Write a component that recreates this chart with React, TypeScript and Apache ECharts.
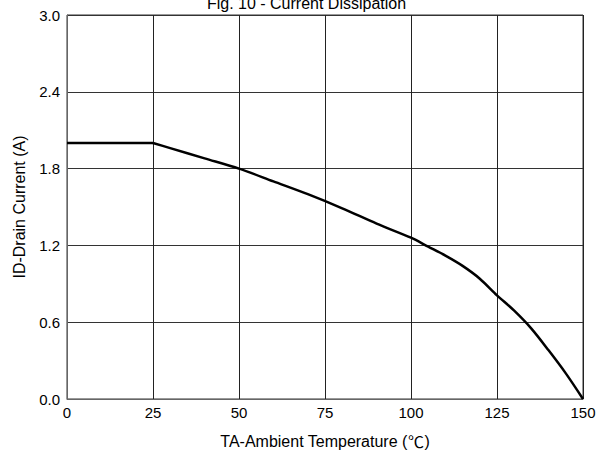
import React, { useEffect, useRef } from "react";
import * as echarts from "echarts";

// Derating curve: drain current vs ambient temperature
const flatTemps = [0, 25];
const flatCurrent = [2.0, 2.0];
const deratingTemps = [25, 30, 40, 50, 60, 70, 80, 90, 100, 105, 110, 115, 120, 125, 130, 135, 140, 145, 150];
const deratingCurrent = [2.0, 1.96, 1.88, 1.8, 1.7, 1.6, 1.49, 1.37, 1.26, 1.19, 1.12, 1.04, 0.94, 0.81, 0.69, 0.55, 0.38, 0.2, 0.0];

const xTicks = [0, 25, 50, 75, 100, 125, 150];
const yTicks = [0, 0.6, 1.2, 1.8, 2.4, 3.0];

const titleText = "Fig. 10 - Current Dissipation";
const xName = "{t|TA-Ambient Temperature (}{u|℃}{t|)}";
const yName = "ID-Drain Current (A)";

export default function App() {
  const ref = useRef<HTMLDivElement>(null);

  useEffect(() => {
    if (!ref.current) return;
    const chart = echarts.init(ref.current, undefined, { renderer: "svg" });
    const font = "'Liberation Sans', Arial, sans-serif";
    const cjk = "'Noto Sans CJK SC', 'Noto Sans CJK JP', sans-serif";
    const xStep = xTicks[1] - xTicks[0];
    const yStep = yTicks[1] - yTicks[0];
    const curveStyle = { color: "#000", width: 2.5 };
    chart.setOption({
      animation: false,
      backgroundColor: "#ffffff",
      title: {
        text: titleText,
        left: "center",
        top: -10,
        textStyle: { fontFamily: font, fontSize: 16, fontWeight: "normal", color: "#000" },
      },
      grid: { left: 67, right: 30, top: 15, bottom: 56, show: true, borderColor: "#333", borderWidth: 1 },
      xAxis: {
        type: "value",
        min: xTicks[0],
        max: xTicks[xTicks.length - 1],
        interval: xStep,
        name: xName,
        nameLocation: "middle",
        nameGap: 34,
        nameTextStyle: {
          fontFamily: font,
          fontSize: 16,
          color: "#000",
          rich: {
            t: { fontFamily: font, fontSize: 16, color: "#000" },
            u: { fontFamily: cjk, fontSize: 16, color: "#000", width: 17, align: "center" },
          },
        },
        axisLine: { show: true, lineStyle: { color: "#666", width: 1 } },
        axisTick: { show: false },
        axisLabel: { fontFamily: font, fontSize: 15, color: "#000", margin: 6 },
        splitLine: { show: true, lineStyle: { color: "#222", width: 1 } },
      },
      yAxis: {
        type: "value",
        min: yTicks[0],
        max: yTicks[yTicks.length - 1],
        interval: yStep,
        name: yName,
        nameLocation: "middle",
        nameRotate: 90,
        nameGap: 40,
        nameTextStyle: { fontFamily: font, fontSize: 16, color: "#000" },
        axisLine: { show: true, lineStyle: { color: "#666", width: 1 } },
        axisTick: { show: false },
        axisLabel: {
          fontFamily: font,
          fontSize: 15,
          color: "#000",
          margin: 7,
          formatter: (v: number) => v.toFixed(1),
        },
        splitLine: { show: true, lineStyle: { color: "#333", width: 1 } },
      },
      series: [
        {
          type: "line",
          data: flatTemps.map((t, i) => [t, flatCurrent[i]]),
          showSymbol: false,
          lineStyle: curveStyle,
          clip: false,
        },
        {
          type: "line",
          data: deratingTemps.map((t, i) => [t, deratingCurrent[i]]),
          showSymbol: false,
          smooth: 0.3,
          lineStyle: curveStyle,
          clip: false,
        },
      ],
    });
    return () => chart.dispose();
  }, []);

  return <div ref={ref} style={{ width: 613, height: 455, position: "absolute", left: 0, top: 0 }} />;
}
